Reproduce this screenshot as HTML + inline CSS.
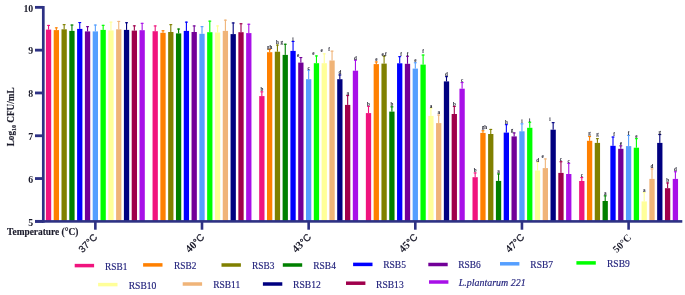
<!DOCTYPE html>
<html><head><meta charset="utf-8"><title>chart</title>
<style>html,body{margin:0;padding:0;background:#fff;}body{width:685px;height:295px;overflow:hidden;position:relative;font-family:"Liberation Sans",sans-serif;}</style>
</head><body>
<svg width="685" height="295" viewBox="0 0 685 295" style="position:absolute;left:0;top:0;will-change:transform">
<rect width="685" height="295" fill="#fff"/>
<rect x="45.90" y="29.60" width="5.3" height="191.90" fill="#F0147E"/>
<rect x="48.00" y="24.90" width="1.1" height="4.70" fill="#F0147E"/>
<rect x="47.10" y="24.90" width="2.9" height="1.1" fill="#F0147E"/>
<rect x="53.70" y="30.10" width="5.3" height="191.40" fill="#FF8000"/>
<rect x="55.80" y="27.30" width="1.1" height="2.80" fill="#FF8000"/>
<rect x="54.90" y="27.30" width="2.9" height="1.1" fill="#FF8000"/>
<rect x="61.50" y="29.30" width="5.3" height="192.20" fill="#808000"/>
<rect x="63.60" y="24.10" width="1.1" height="5.20" fill="#808000"/>
<rect x="62.70" y="24.10" width="2.9" height="1.1" fill="#808000"/>
<rect x="69.30" y="30.90" width="5.3" height="190.60" fill="#008000"/>
<rect x="71.40" y="24.50" width="1.1" height="6.40" fill="#008000"/>
<rect x="70.50" y="24.50" width="2.9" height="1.1" fill="#008000"/>
<rect x="77.10" y="28.90" width="5.3" height="192.60" fill="#0000FF"/>
<rect x="79.20" y="22.00" width="1.1" height="6.90" fill="#0000FF"/>
<rect x="78.30" y="22.00" width="2.9" height="1.1" fill="#0000FF"/>
<rect x="84.90" y="31.40" width="5.3" height="190.10" fill="#720098"/>
<rect x="87.00" y="26.10" width="1.1" height="5.30" fill="#720098"/>
<rect x="86.10" y="26.10" width="2.9" height="1.1" fill="#720098"/>
<rect x="92.70" y="31.40" width="5.3" height="190.10" fill="#559FFF"/>
<rect x="94.80" y="24.50" width="1.1" height="6.90" fill="#559FFF"/>
<rect x="93.90" y="24.50" width="2.9" height="1.1" fill="#559FFF"/>
<rect x="100.50" y="29.90" width="5.3" height="191.60" fill="#00FF00"/>
<rect x="102.60" y="24.80" width="1.1" height="5.10" fill="#00FF00"/>
<rect x="101.70" y="24.80" width="2.9" height="1.1" fill="#00FF00"/>
<rect x="108.30" y="30.40" width="5.3" height="191.10" fill="#FFFF99"/>
<rect x="110.40" y="21.60" width="1.1" height="8.80" fill="#FFFF99"/>
<rect x="109.50" y="21.60" width="2.9" height="1.1" fill="#FFFF99"/>
<rect x="116.10" y="29.30" width="5.3" height="192.20" fill="#F0B478"/>
<rect x="118.20" y="20.90" width="1.1" height="8.40" fill="#F0B478"/>
<rect x="117.30" y="20.90" width="2.9" height="1.1" fill="#F0B478"/>
<rect x="123.90" y="29.90" width="5.3" height="191.60" fill="#000080"/>
<rect x="126.00" y="22.20" width="1.1" height="7.70" fill="#000080"/>
<rect x="125.10" y="22.20" width="2.9" height="1.1" fill="#000080"/>
<rect x="131.70" y="30.60" width="5.3" height="190.90" fill="#A0004C"/>
<rect x="133.80" y="25.30" width="1.1" height="5.30" fill="#A0004C"/>
<rect x="132.90" y="25.30" width="2.9" height="1.1" fill="#A0004C"/>
<rect x="139.50" y="30.20" width="5.3" height="191.30" fill="#A810E8"/>
<rect x="141.60" y="22.80" width="1.1" height="7.40" fill="#A810E8"/>
<rect x="140.70" y="22.80" width="2.9" height="1.1" fill="#A810E8"/>
<rect x="152.55" y="31.20" width="5.3" height="190.30" fill="#F0147E"/>
<rect x="154.65" y="25.40" width="1.1" height="5.80" fill="#F0147E"/>
<rect x="153.75" y="25.40" width="2.9" height="1.1" fill="#F0147E"/>
<rect x="160.35" y="32.80" width="5.3" height="188.70" fill="#FF8000"/>
<rect x="162.45" y="30.20" width="1.1" height="2.60" fill="#FF8000"/>
<rect x="161.55" y="30.20" width="2.9" height="1.1" fill="#FF8000"/>
<rect x="168.15" y="32.00" width="5.3" height="189.50" fill="#808000"/>
<rect x="170.25" y="24.10" width="1.1" height="7.90" fill="#808000"/>
<rect x="169.35" y="24.10" width="2.9" height="1.1" fill="#808000"/>
<rect x="175.95" y="33.40" width="5.3" height="188.10" fill="#008000"/>
<rect x="178.05" y="28.50" width="1.1" height="4.90" fill="#008000"/>
<rect x="177.15" y="28.50" width="2.9" height="1.1" fill="#008000"/>
<rect x="183.75" y="30.90" width="5.3" height="190.60" fill="#0000FF"/>
<rect x="185.85" y="21.60" width="1.1" height="9.30" fill="#0000FF"/>
<rect x="184.95" y="21.60" width="2.9" height="1.1" fill="#0000FF"/>
<rect x="191.55" y="32.00" width="5.3" height="189.50" fill="#720098"/>
<rect x="193.65" y="25.40" width="1.1" height="6.60" fill="#720098"/>
<rect x="192.75" y="25.40" width="2.9" height="1.1" fill="#720098"/>
<rect x="199.35" y="33.80" width="5.3" height="187.70" fill="#559FFF"/>
<rect x="201.45" y="26.10" width="1.1" height="7.70" fill="#559FFF"/>
<rect x="200.55" y="26.10" width="2.9" height="1.1" fill="#559FFF"/>
<rect x="207.15" y="32.20" width="5.3" height="189.30" fill="#00FF00"/>
<rect x="209.25" y="20.60" width="1.1" height="11.60" fill="#00FF00"/>
<rect x="208.35" y="20.60" width="2.9" height="1.1" fill="#00FF00"/>
<rect x="214.95" y="32.50" width="5.3" height="189.00" fill="#FFFF99"/>
<rect x="217.05" y="25.40" width="1.1" height="7.10" fill="#FFFF99"/>
<rect x="216.15" y="25.40" width="2.9" height="1.1" fill="#FFFF99"/>
<rect x="222.75" y="30.90" width="5.3" height="190.60" fill="#F0B478"/>
<rect x="224.85" y="19.60" width="1.1" height="11.30" fill="#F0B478"/>
<rect x="223.95" y="19.60" width="2.9" height="1.1" fill="#F0B478"/>
<rect x="230.55" y="34.10" width="5.3" height="187.40" fill="#000080"/>
<rect x="232.65" y="22.40" width="1.1" height="11.70" fill="#000080"/>
<rect x="231.75" y="22.40" width="2.9" height="1.1" fill="#000080"/>
<rect x="238.35" y="32.20" width="5.3" height="189.30" fill="#A0004C"/>
<rect x="240.45" y="23.20" width="1.1" height="9.00" fill="#A0004C"/>
<rect x="239.55" y="23.20" width="2.9" height="1.1" fill="#A0004C"/>
<rect x="246.15" y="33.10" width="5.3" height="188.40" fill="#A810E8"/>
<rect x="248.25" y="23.70" width="1.1" height="9.40" fill="#A810E8"/>
<rect x="247.35" y="23.70" width="2.9" height="1.1" fill="#A810E8"/>
<rect x="259.20" y="96.10" width="5.3" height="125.40" fill="#F0147E"/>
<rect x="261.30" y="91.30" width="1.1" height="4.80" fill="#F0147E"/>
<rect x="260.40" y="91.30" width="2.9" height="1.1" fill="#F0147E"/>
<text x="261.85" y="91.20" font-size="5.1" font-weight="bold" text-anchor="middle" fill="#1a1a2a" font-family="Liberation Serif, serif">b</text>
<rect x="267.00" y="52.20" width="5.3" height="169.30" fill="#FF8000"/>
<rect x="269.10" y="48.90" width="1.1" height="3.30" fill="#FF8000"/>
<rect x="268.20" y="48.90" width="2.9" height="1.1" fill="#FF8000"/>
<text x="269.65" y="48.80" font-size="5.1" font-weight="bold" text-anchor="middle" fill="#1a1a2a" font-family="Liberation Serif, serif">gh</text>
<rect x="274.80" y="51.70" width="5.3" height="169.80" fill="#808000"/>
<rect x="276.90" y="44.50" width="1.1" height="7.20" fill="#808000"/>
<rect x="276.00" y="44.50" width="2.9" height="1.1" fill="#808000"/>
<text x="277.45" y="44.40" font-size="5.1" font-weight="bold" text-anchor="middle" fill="#1a1a2a" font-family="Liberation Serif, serif">h</text>
<rect x="282.60" y="54.90" width="5.3" height="166.60" fill="#008000"/>
<rect x="284.70" y="43.70" width="1.1" height="11.20" fill="#008000"/>
<rect x="283.80" y="43.70" width="2.9" height="1.1" fill="#008000"/>
<text x="281.65" y="43.60" font-size="5.1" font-weight="bold" text-anchor="middle" fill="#1a1a2a" font-family="Liberation Serif, serif">g</text>
<rect x="290.40" y="50.90" width="5.3" height="170.60" fill="#0000FF"/>
<rect x="292.50" y="40.90" width="1.1" height="10.00" fill="#0000FF"/>
<rect x="291.60" y="40.90" width="2.9" height="1.1" fill="#0000FF"/>
<text x="293.05" y="40.80" font-size="5.1" font-weight="bold" text-anchor="middle" fill="#1a1a2a" font-family="Liberation Serif, serif">i</text>
<rect x="298.20" y="62.60" width="5.3" height="158.90" fill="#720098"/>
<rect x="300.30" y="57.00" width="1.1" height="5.60" fill="#720098"/>
<rect x="299.40" y="57.00" width="2.9" height="1.1" fill="#720098"/>
<text x="298.05" y="56.50" font-size="5.1" font-weight="bold" text-anchor="middle" fill="#1a1a2a" font-family="Liberation Serif, serif">e</text>
<rect x="306.00" y="79.20" width="5.3" height="142.30" fill="#559FFF"/>
<rect x="308.10" y="69.60" width="1.1" height="9.60" fill="#559FFF"/>
<rect x="307.20" y="69.60" width="2.9" height="1.1" fill="#559FFF"/>
<text x="308.65" y="69.50" font-size="5.1" font-weight="bold" text-anchor="middle" fill="#1a1a2a" font-family="Liberation Serif, serif">c</text>
<rect x="313.80" y="63.20" width="5.3" height="158.30" fill="#00FF00"/>
<rect x="315.90" y="55.40" width="1.1" height="7.80" fill="#00FF00"/>
<rect x="315.00" y="55.40" width="2.9" height="1.1" fill="#00FF00"/>
<text x="313.45" y="54.90" font-size="5.1" font-weight="bold" text-anchor="middle" fill="#1a1a2a" font-family="Liberation Serif, serif">e</text>
<rect x="321.60" y="63.20" width="5.3" height="158.30" fill="#FFFF99"/>
<rect x="323.70" y="53.30" width="1.1" height="9.90" fill="#FFFF99"/>
<rect x="322.80" y="53.30" width="2.9" height="1.1" fill="#FFFF99"/>
<text x="321.75" y="51.70" font-size="5.1" font-weight="bold" text-anchor="middle" fill="#1a1a2a" font-family="Liberation Serif, serif">e</text>
<rect x="329.40" y="60.50" width="5.3" height="161.00" fill="#F0B478"/>
<rect x="331.50" y="50.60" width="1.1" height="9.90" fill="#F0B478"/>
<rect x="330.60" y="50.60" width="2.9" height="1.1" fill="#F0B478"/>
<text x="329.15" y="50.90" font-size="5.1" font-weight="bold" text-anchor="middle" fill="#1a1a2a" font-family="Liberation Serif, serif">f</text>
<rect x="337.20" y="79.20" width="5.3" height="142.30" fill="#000080"/>
<rect x="339.30" y="74.40" width="1.1" height="4.80" fill="#000080"/>
<rect x="338.40" y="74.40" width="2.9" height="1.1" fill="#000080"/>
<text x="339.85" y="74.30" font-size="5.1" font-weight="bold" text-anchor="middle" fill="#1a1a2a" font-family="Liberation Serif, serif">d</text>
<rect x="345.00" y="104.90" width="5.3" height="116.60" fill="#A0004C"/>
<rect x="347.10" y="95.00" width="1.1" height="9.90" fill="#A0004C"/>
<rect x="346.20" y="95.00" width="2.9" height="1.1" fill="#A0004C"/>
<text x="347.65" y="94.90" font-size="5.1" font-weight="bold" text-anchor="middle" fill="#1a1a2a" font-family="Liberation Serif, serif">a</text>
<rect x="352.80" y="70.70" width="5.3" height="150.80" fill="#A810E8"/>
<rect x="354.90" y="59.70" width="1.1" height="11.00" fill="#A810E8"/>
<rect x="354.00" y="59.70" width="2.9" height="1.1" fill="#A810E8"/>
<text x="355.45" y="59.60" font-size="5.1" font-weight="bold" text-anchor="middle" fill="#1a1a2a" font-family="Liberation Serif, serif">d</text>
<rect x="365.85" y="113.10" width="5.3" height="108.40" fill="#F0147E"/>
<rect x="367.95" y="105.80" width="1.1" height="7.30" fill="#F0147E"/>
<rect x="367.05" y="105.80" width="2.9" height="1.1" fill="#F0147E"/>
<text x="368.50" y="105.70" font-size="5.1" font-weight="bold" text-anchor="middle" fill="#1a1a2a" font-family="Liberation Serif, serif">b</text>
<rect x="373.65" y="64.10" width="5.3" height="157.40" fill="#FF8000"/>
<rect x="375.75" y="61.40" width="1.1" height="2.70" fill="#FF8000"/>
<rect x="374.85" y="61.40" width="2.9" height="1.1" fill="#FF8000"/>
<text x="376.30" y="61.30" font-size="5.1" font-weight="bold" text-anchor="middle" fill="#1a1a2a" font-family="Liberation Serif, serif">e</text>
<rect x="381.45" y="63.60" width="5.3" height="157.90" fill="#808000"/>
<rect x="383.55" y="55.60" width="1.1" height="8.00" fill="#808000"/>
<rect x="382.65" y="55.60" width="2.9" height="1.1" fill="#808000"/>
<text x="384.10" y="55.50" font-size="5.1" font-weight="bold" text-anchor="middle" fill="#1a1a2a" font-family="Liberation Serif, serif">e,f</text>
<rect x="389.25" y="111.60" width="5.3" height="109.90" fill="#008000"/>
<rect x="391.35" y="106.30" width="1.1" height="5.30" fill="#008000"/>
<rect x="390.45" y="106.30" width="2.9" height="1.1" fill="#008000"/>
<text x="391.90" y="106.20" font-size="5.1" font-weight="bold" text-anchor="middle" fill="#1a1a2a" font-family="Liberation Serif, serif">b</text>
<rect x="397.05" y="63.30" width="5.3" height="158.20" fill="#0000FF"/>
<rect x="399.15" y="56.10" width="1.1" height="7.20" fill="#0000FF"/>
<rect x="398.25" y="56.10" width="2.9" height="1.1" fill="#0000FF"/>
<text x="401.10" y="56.00" font-size="5.1" font-weight="bold" text-anchor="middle" fill="#1a1a2a" font-family="Liberation Serif, serif">f</text>
<rect x="404.85" y="63.80" width="5.3" height="157.70" fill="#720098"/>
<rect x="406.95" y="55.70" width="1.1" height="8.10" fill="#720098"/>
<rect x="406.05" y="55.70" width="2.9" height="1.1" fill="#720098"/>
<text x="407.50" y="55.60" font-size="5.1" font-weight="bold" text-anchor="middle" fill="#1a1a2a" font-family="Liberation Serif, serif">f</text>
<rect x="412.65" y="68.60" width="5.3" height="152.90" fill="#559FFF"/>
<rect x="414.75" y="62.20" width="1.1" height="6.40" fill="#559FFF"/>
<rect x="413.85" y="62.20" width="2.9" height="1.1" fill="#559FFF"/>
<text x="415.30" y="62.10" font-size="5.1" font-weight="bold" text-anchor="middle" fill="#1a1a2a" font-family="Liberation Serif, serif">e</text>
<rect x="420.45" y="64.60" width="5.3" height="156.90" fill="#00FF00"/>
<rect x="422.55" y="54.50" width="1.1" height="10.10" fill="#00FF00"/>
<rect x="421.65" y="54.50" width="2.9" height="1.1" fill="#00FF00"/>
<text x="423.10" y="53.40" font-size="5.1" font-weight="bold" text-anchor="middle" fill="#1a1a2a" font-family="Liberation Serif, serif">f</text>
<rect x="428.25" y="115.90" width="5.3" height="105.60" fill="#FFFF99"/>
<rect x="430.35" y="107.60" width="1.1" height="8.30" fill="#FFFF99"/>
<rect x="429.45" y="107.60" width="2.9" height="1.1" fill="#FFFF99"/>
<text x="430.90" y="107.50" font-size="5.1" font-weight="bold" text-anchor="middle" fill="#1a1a2a" font-family="Liberation Serif, serif">a</text>
<rect x="436.05" y="123.10" width="5.3" height="98.40" fill="#F0B478"/>
<rect x="438.15" y="114.50" width="1.1" height="8.60" fill="#F0B478"/>
<rect x="437.25" y="114.50" width="2.9" height="1.1" fill="#F0B478"/>
<text x="438.70" y="114.40" font-size="5.1" font-weight="bold" text-anchor="middle" fill="#1a1a2a" font-family="Liberation Serif, serif">a</text>
<rect x="443.85" y="81.40" width="5.3" height="140.10" fill="#000080"/>
<rect x="445.95" y="76.10" width="1.1" height="5.30" fill="#000080"/>
<rect x="445.05" y="76.10" width="2.9" height="1.1" fill="#000080"/>
<text x="446.50" y="76.00" font-size="5.1" font-weight="bold" text-anchor="middle" fill="#1a1a2a" font-family="Liberation Serif, serif">d</text>
<rect x="451.65" y="114.00" width="5.3" height="107.50" fill="#A0004C"/>
<rect x="453.75" y="105.90" width="1.1" height="8.10" fill="#A0004C"/>
<rect x="452.85" y="105.90" width="2.9" height="1.1" fill="#A0004C"/>
<text x="454.30" y="105.80" font-size="5.1" font-weight="bold" text-anchor="middle" fill="#1a1a2a" font-family="Liberation Serif, serif">b</text>
<rect x="459.45" y="88.70" width="5.3" height="132.80" fill="#A810E8"/>
<rect x="461.55" y="82.00" width="1.1" height="6.70" fill="#A810E8"/>
<rect x="460.65" y="82.00" width="2.9" height="1.1" fill="#A810E8"/>
<text x="462.10" y="81.90" font-size="5.1" font-weight="bold" text-anchor="middle" fill="#1a1a2a" font-family="Liberation Serif, serif">c</text>
<rect x="472.50" y="177.20" width="5.3" height="44.30" fill="#F0147E"/>
<rect x="474.60" y="172.40" width="1.1" height="4.80" fill="#F0147E"/>
<rect x="473.70" y="172.40" width="2.9" height="1.1" fill="#F0147E"/>
<text x="475.15" y="172.30" font-size="5.1" font-weight="bold" text-anchor="middle" fill="#1a1a2a" font-family="Liberation Serif, serif">b</text>
<rect x="480.30" y="132.90" width="5.3" height="88.60" fill="#FF8000"/>
<rect x="482.40" y="130.20" width="1.1" height="2.70" fill="#FF8000"/>
<rect x="481.50" y="130.20" width="2.9" height="1.1" fill="#FF8000"/>
<text x="484.45" y="129.30" font-size="5.1" font-weight="bold" text-anchor="middle" fill="#1a1a2a" font-family="Liberation Serif, serif">gh</text>
<rect x="488.10" y="134.00" width="5.3" height="87.50" fill="#808000"/>
<rect x="490.20" y="128.90" width="1.1" height="5.10" fill="#808000"/>
<rect x="489.30" y="128.90" width="2.9" height="1.1" fill="#808000"/>
<rect x="495.90" y="180.90" width="5.3" height="40.60" fill="#008000"/>
<rect x="498.00" y="173.40" width="1.1" height="7.50" fill="#008000"/>
<rect x="497.10" y="173.40" width="2.9" height="1.1" fill="#008000"/>
<text x="498.55" y="173.30" font-size="5.1" font-weight="bold" text-anchor="middle" fill="#1a1a2a" font-family="Liberation Serif, serif">a</text>
<rect x="503.70" y="132.60" width="5.3" height="88.90" fill="#0000FF"/>
<rect x="505.80" y="124.10" width="1.1" height="8.50" fill="#0000FF"/>
<rect x="504.90" y="124.10" width="2.9" height="1.1" fill="#0000FF"/>
<text x="506.35" y="124.00" font-size="5.1" font-weight="bold" text-anchor="middle" fill="#1a1a2a" font-family="Liberation Serif, serif">h</text>
<rect x="511.50" y="136.40" width="5.3" height="85.10" fill="#720098"/>
<rect x="513.60" y="132.40" width="1.1" height="4.00" fill="#720098"/>
<rect x="512.70" y="132.40" width="2.9" height="1.1" fill="#720098"/>
<text x="511.95" y="131.80" font-size="5.1" font-weight="bold" text-anchor="middle" fill="#1a1a2a" font-family="Liberation Serif, serif">g</text>
<rect x="519.30" y="131.30" width="5.3" height="90.20" fill="#559FFF"/>
<rect x="521.40" y="123.30" width="1.1" height="8.00" fill="#559FFF"/>
<rect x="520.50" y="123.30" width="2.9" height="1.1" fill="#559FFF"/>
<text x="521.95" y="123.20" font-size="5.1" font-weight="bold" text-anchor="middle" fill="#1a1a2a" font-family="Liberation Serif, serif">i</text>
<rect x="527.10" y="127.80" width="5.3" height="93.70" fill="#00FF00"/>
<rect x="529.20" y="121.70" width="1.1" height="6.10" fill="#00FF00"/>
<rect x="528.30" y="121.70" width="2.9" height="1.1" fill="#00FF00"/>
<text x="529.75" y="121.60" font-size="5.1" font-weight="bold" text-anchor="middle" fill="#1a1a2a" font-family="Liberation Serif, serif">i</text>
<rect x="534.90" y="170.50" width="5.3" height="51.00" fill="#FFFF99"/>
<rect x="537.00" y="161.70" width="1.1" height="8.80" fill="#FFFF99"/>
<rect x="536.10" y="161.70" width="2.9" height="1.1" fill="#FFFF99"/>
<text x="537.55" y="161.60" font-size="5.1" font-weight="bold" text-anchor="middle" fill="#1a1a2a" font-family="Liberation Serif, serif">d</text>
<rect x="542.70" y="168.10" width="5.3" height="53.40" fill="#F0B478"/>
<rect x="544.80" y="158.40" width="1.1" height="9.70" fill="#F0B478"/>
<rect x="543.90" y="158.40" width="2.9" height="1.1" fill="#F0B478"/>
<text x="542.65" y="158.30" font-size="5.1" font-weight="bold" text-anchor="middle" fill="#1a1a2a" font-family="Liberation Serif, serif">e</text>
<rect x="550.50" y="129.70" width="5.3" height="91.80" fill="#000080"/>
<rect x="552.60" y="122.10" width="1.1" height="7.60" fill="#000080"/>
<rect x="551.70" y="122.10" width="2.9" height="1.1" fill="#000080"/>
<text x="549.95" y="121.00" font-size="5.1" font-weight="bold" text-anchor="middle" fill="#1a1a2a" font-family="Liberation Serif, serif">i</text>
<rect x="558.30" y="172.90" width="5.3" height="48.60" fill="#A0004C"/>
<rect x="560.40" y="161.20" width="1.1" height="11.70" fill="#A0004C"/>
<rect x="559.50" y="161.20" width="2.9" height="1.1" fill="#A0004C"/>
<text x="560.95" y="161.10" font-size="5.1" font-weight="bold" text-anchor="middle" fill="#1a1a2a" font-family="Liberation Serif, serif">c</text>
<rect x="566.10" y="174.00" width="5.3" height="47.50" fill="#A810E8"/>
<rect x="568.20" y="162.80" width="1.1" height="11.20" fill="#A810E8"/>
<rect x="567.30" y="162.80" width="2.9" height="1.1" fill="#A810E8"/>
<text x="568.75" y="162.70" font-size="5.1" font-weight="bold" text-anchor="middle" fill="#1a1a2a" font-family="Liberation Serif, serif">c</text>
<rect x="579.15" y="181.00" width="5.3" height="40.50" fill="#F0147E"/>
<rect x="581.25" y="177.00" width="1.1" height="4.00" fill="#F0147E"/>
<rect x="580.35" y="177.00" width="2.9" height="1.1" fill="#F0147E"/>
<text x="581.80" y="176.90" font-size="5.1" font-weight="bold" text-anchor="middle" fill="#1a1a2a" font-family="Liberation Serif, serif">c</text>
<rect x="586.95" y="140.80" width="5.3" height="80.70" fill="#FF8000"/>
<rect x="589.05" y="136.00" width="1.1" height="4.80" fill="#FF8000"/>
<rect x="588.15" y="136.00" width="2.9" height="1.1" fill="#FF8000"/>
<text x="589.60" y="135.30" font-size="5.1" font-weight="bold" text-anchor="middle" fill="#1a1a2a" font-family="Liberation Serif, serif">g</text>
<rect x="594.75" y="142.90" width="5.3" height="78.60" fill="#808000"/>
<rect x="596.85" y="138.10" width="1.1" height="4.80" fill="#808000"/>
<rect x="595.95" y="138.10" width="2.9" height="1.1" fill="#808000"/>
<text x="597.40" y="135.80" font-size="5.1" font-weight="bold" text-anchor="middle" fill="#1a1a2a" font-family="Liberation Serif, serif">g</text>
<rect x="602.55" y="201.00" width="5.3" height="20.50" fill="#008000"/>
<rect x="604.65" y="195.30" width="1.1" height="5.70" fill="#008000"/>
<rect x="603.75" y="195.30" width="2.9" height="1.1" fill="#008000"/>
<text x="605.20" y="195.20" font-size="5.1" font-weight="bold" text-anchor="middle" fill="#1a1a2a" font-family="Liberation Serif, serif">a</text>
<rect x="610.35" y="145.80" width="5.3" height="75.70" fill="#0000FF"/>
<rect x="612.45" y="136.50" width="1.1" height="9.30" fill="#0000FF"/>
<rect x="611.55" y="136.50" width="2.9" height="1.1" fill="#0000FF"/>
<text x="614.10" y="136.40" font-size="5.1" font-weight="bold" text-anchor="middle" fill="#1a1a2a" font-family="Liberation Serif, serif">f</text>
<rect x="618.15" y="148.80" width="5.3" height="72.70" fill="#720098"/>
<rect x="620.25" y="145.30" width="1.1" height="3.50" fill="#720098"/>
<rect x="619.35" y="145.30" width="2.9" height="1.1" fill="#720098"/>
<text x="620.80" y="145.20" font-size="5.1" font-weight="bold" text-anchor="middle" fill="#1a1a2a" font-family="Liberation Serif, serif">e</text>
<rect x="625.95" y="146.10" width="5.3" height="75.40" fill="#559FFF"/>
<rect x="628.05" y="134.90" width="1.1" height="11.20" fill="#559FFF"/>
<rect x="627.15" y="134.90" width="2.9" height="1.1" fill="#559FFF"/>
<text x="628.60" y="134.80" font-size="5.1" font-weight="bold" text-anchor="middle" fill="#1a1a2a" font-family="Liberation Serif, serif">f</text>
<rect x="633.75" y="147.70" width="5.3" height="73.80" fill="#00FF00"/>
<rect x="635.85" y="138.10" width="1.1" height="9.60" fill="#00FF00"/>
<rect x="634.95" y="138.10" width="2.9" height="1.1" fill="#00FF00"/>
<text x="636.40" y="138.00" font-size="5.1" font-weight="bold" text-anchor="middle" fill="#1a1a2a" font-family="Liberation Serif, serif">e</text>
<rect x="641.55" y="201.40" width="5.3" height="20.10" fill="#FFFF99"/>
<rect x="643.65" y="192.00" width="1.1" height="9.40" fill="#FFFF99"/>
<rect x="642.75" y="192.00" width="2.9" height="1.1" fill="#FFFF99"/>
<text x="644.20" y="191.90" font-size="5.1" font-weight="bold" text-anchor="middle" fill="#1a1a2a" font-family="Liberation Serif, serif">a</text>
<rect x="649.35" y="178.90" width="5.3" height="42.60" fill="#F0B478"/>
<rect x="651.45" y="168.40" width="1.1" height="10.50" fill="#F0B478"/>
<rect x="650.55" y="168.40" width="2.9" height="1.1" fill="#F0B478"/>
<text x="652.00" y="168.30" font-size="5.1" font-weight="bold" text-anchor="middle" fill="#1a1a2a" font-family="Liberation Serif, serif">d</text>
<rect x="657.15" y="142.90" width="5.3" height="78.60" fill="#000080"/>
<rect x="659.25" y="134.00" width="1.1" height="8.90" fill="#000080"/>
<rect x="658.35" y="134.00" width="2.9" height="1.1" fill="#000080"/>
<text x="659.80" y="133.90" font-size="5.1" font-weight="bold" text-anchor="middle" fill="#1a1a2a" font-family="Liberation Serif, serif">g</text>
<rect x="664.95" y="188.20" width="5.3" height="33.30" fill="#A0004C"/>
<rect x="667.05" y="182.40" width="1.1" height="5.80" fill="#A0004C"/>
<rect x="666.15" y="182.40" width="2.9" height="1.1" fill="#A0004C"/>
<text x="667.60" y="182.30" font-size="5.1" font-weight="bold" text-anchor="middle" fill="#1a1a2a" font-family="Liberation Serif, serif">b</text>
<rect x="672.75" y="178.90" width="5.3" height="42.60" fill="#A810E8"/>
<rect x="674.85" y="171.20" width="1.1" height="7.70" fill="#A810E8"/>
<rect x="673.95" y="171.20" width="2.9" height="1.1" fill="#A810E8"/>
<text x="675.40" y="171.10" font-size="5.1" font-weight="bold" text-anchor="middle" fill="#1a1a2a" font-family="Liberation Serif, serif">d</text>
<rect x="41.95" y="6.0" width="2.7" height="216.7" fill="#2d3184"/>
<rect x="35.0" y="220.1" width="647.3" height="2.6" fill="#2d3184"/>
<rect x="35.0" y="5.95" width="8" height="2.8" fill="#2d3184"/>
<text x="33.2" y="11.65" font-size="9.8" font-weight="bold" text-anchor="end" fill="#1b1b2b" font-family="Liberation Serif, serif">10</text>
<rect x="35.0" y="48.75" width="8" height="2.8" fill="#2d3184"/>
<text x="33.2" y="54.45" font-size="9.8" font-weight="bold" text-anchor="end" fill="#1b1b2b" font-family="Liberation Serif, serif">9</text>
<rect x="35.0" y="91.55" width="8" height="2.8" fill="#2d3184"/>
<text x="33.2" y="97.25" font-size="9.8" font-weight="bold" text-anchor="end" fill="#1b1b2b" font-family="Liberation Serif, serif">8</text>
<rect x="35.0" y="134.35" width="8" height="2.8" fill="#2d3184"/>
<text x="33.2" y="140.05" font-size="9.8" font-weight="bold" text-anchor="end" fill="#1b1b2b" font-family="Liberation Serif, serif">7</text>
<rect x="35.0" y="177.15" width="8" height="2.8" fill="#2d3184"/>
<text x="33.2" y="182.85" font-size="9.8" font-weight="bold" text-anchor="end" fill="#1b1b2b" font-family="Liberation Serif, serif">6</text>
<rect x="35.0" y="219.95" width="8" height="2.8" fill="#2d3184"/>
<text x="33.2" y="225.65" font-size="9.8" font-weight="bold" text-anchor="end" fill="#1b1b2b" font-family="Liberation Serif, serif">5</text>
<rect x="94.05" y="221" width="2.6" height="8.7" fill="#2d3184"/>
<text transform="translate(95.75,235.70) rotate(-45)" text-anchor="end" fill="#1b1b2b" x="0" y="3"><tspan font-family="Liberation Sans, sans-serif" font-size="9.7" stroke="#1b1b2b" stroke-width="0.25">37°C</tspan></text>
<rect x="200.70" y="221" width="2.6" height="8.7" fill="#2d3184"/>
<text transform="translate(202.90,235.70) rotate(-45)" text-anchor="end" fill="#1b1b2b" x="0" y="3"><tspan font-family="Liberation Serif, serif" font-weight="bold" font-size="10.8">40</tspan><tspan font-family="Liberation Sans, sans-serif" font-size="9.8" stroke="#1b1b2b" stroke-width="0.3">°C</tspan></text>
<rect x="307.35" y="221" width="2.6" height="8.7" fill="#2d3184"/>
<text transform="translate(309.55,235.70) rotate(-45)" text-anchor="end" fill="#1b1b2b" x="0" y="3"><tspan font-family="Liberation Serif, serif" font-weight="bold" font-size="10.8">43</tspan><tspan font-family="Liberation Sans, sans-serif" font-size="9.8" stroke="#1b1b2b" stroke-width="0.3">°C</tspan></text>
<rect x="414.00" y="221" width="2.6" height="8.7" fill="#2d3184"/>
<text transform="translate(416.20,235.70) rotate(-45)" text-anchor="end" fill="#1b1b2b" x="0" y="3"><tspan font-family="Liberation Serif, serif" font-weight="bold" font-size="10.8">45</tspan><tspan font-family="Liberation Sans, sans-serif" font-size="9.8" stroke="#1b1b2b" stroke-width="0.3">°C</tspan></text>
<rect x="520.65" y="221" width="2.6" height="8.7" fill="#2d3184"/>
<text transform="translate(522.85,235.70) rotate(-45)" text-anchor="end" fill="#1b1b2b" x="0" y="3"><tspan font-family="Liberation Serif, serif" font-weight="bold" font-size="10.8">47</tspan><tspan font-family="Liberation Sans, sans-serif" font-size="9.8" stroke="#1b1b2b" stroke-width="0.3">°C</tspan></text>
<rect x="627.30" y="221" width="2.6" height="8.7" fill="#2d3184"/>
<text transform="translate(629.50,235.70) rotate(-45)" text-anchor="end" fill="#1b1b2b" x="0" y="3"><tspan font-family="Liberation Serif, serif" font-weight="bold" font-size="10.1" dy="0.5">50°C</tspan></text>
<text x="7.1" y="235.1" font-size="9.4" font-weight="bold" fill="#1b1b2b" stroke="#1b1b2b" stroke-width="0.15" font-family="Liberation Serif, serif" textLength="71.2" lengthAdjust="spacingAndGlyphs">Temperature (°C)</text>
<text transform="translate(14.3,146.3) rotate(-90)" font-size="9.7" font-weight="bold" fill="#1b1b2b" stroke="#1b1b2b" stroke-width="0.15" font-family="Liberation Serif, serif" textLength="59" lengthAdjust="spacingAndGlyphs">Log<tspan font-size="6.2" dy="1.8">10</tspan><tspan dy="-1.8"> CFU/mL</tspan></text>
<rect x="74.7" y="263.85" width="19.4" height="3.5" fill="#F0147E"/>
<text x="105.1" y="269.50" font-size="10" fill="#1b1b78" stroke="#1b1b78" stroke-width="0.15" font-family="Liberation Serif, serif" textLength="22.3" lengthAdjust="spacingAndGlyphs">RSB1</text>
<rect x="143.1" y="263.15" width="19.4" height="3.5" fill="#FF8000"/>
<text x="174.0" y="268.80" font-size="10" fill="#1b1b78" stroke="#1b1b78" stroke-width="0.15" font-family="Liberation Serif, serif" textLength="22.3" lengthAdjust="spacingAndGlyphs">RSB2</text>
<rect x="221.5" y="263.25" width="19.4" height="3.5" fill="#808000"/>
<text x="252.0" y="268.90" font-size="10" fill="#1b1b78" stroke="#1b1b78" stroke-width="0.15" font-family="Liberation Serif, serif" textLength="22.5" lengthAdjust="spacingAndGlyphs">RSB3</text>
<rect x="282.8" y="263.25" width="19.4" height="3.5" fill="#008000"/>
<text x="313.3" y="268.90" font-size="10" fill="#1b1b78" stroke="#1b1b78" stroke-width="0.15" font-family="Liberation Serif, serif" textLength="22.6" lengthAdjust="spacingAndGlyphs">RSB4</text>
<rect x="353.1" y="262.65" width="19.4" height="3.5" fill="#0000FF"/>
<text x="383.2" y="268.30" font-size="10" fill="#1b1b78" stroke="#1b1b78" stroke-width="0.15" font-family="Liberation Serif, serif" textLength="22.8" lengthAdjust="spacingAndGlyphs">RSB5</text>
<rect x="428.3" y="262.75" width="19.4" height="3.5" fill="#720098"/>
<text x="458.2" y="268.40" font-size="10" fill="#1b1b78" stroke="#1b1b78" stroke-width="0.15" font-family="Liberation Serif, serif" textLength="22.5" lengthAdjust="spacingAndGlyphs">RSB6</text>
<rect x="500.0" y="262.05" width="19.4" height="3.5" fill="#559FFF"/>
<text x="530.3" y="267.70" font-size="10" fill="#1b1b78" stroke="#1b1b78" stroke-width="0.15" font-family="Liberation Serif, serif" textLength="22.7" lengthAdjust="spacingAndGlyphs">RSB7</text>
<rect x="576.4" y="261.15" width="19.4" height="3.5" fill="#00FF00"/>
<text x="607.0" y="266.80" font-size="10" fill="#1b1b78" stroke="#1b1b78" stroke-width="0.15" font-family="Liberation Serif, serif" textLength="22.8" lengthAdjust="spacingAndGlyphs">RSB9</text>
<rect x="98.1" y="282.85" width="19.4" height="3.5" fill="#FFFF99"/>
<text x="128.7" y="288.90" font-size="10" fill="#1b1b78" stroke="#1b1b78" stroke-width="0.15" font-family="Liberation Serif, serif" textLength="27.7" lengthAdjust="spacingAndGlyphs">RSB10</text>
<rect x="182.7" y="282.25" width="19.4" height="3.5" fill="#F0B478"/>
<text x="213.2" y="288.30" font-size="10" fill="#1b1b78" stroke="#1b1b78" stroke-width="0.15" font-family="Liberation Serif, serif" textLength="27.0" lengthAdjust="spacingAndGlyphs">RSB11</text>
<rect x="262.9" y="282.25" width="19.4" height="3.5" fill="#000080"/>
<text x="293.1" y="288.30" font-size="10" fill="#1b1b78" stroke="#1b1b78" stroke-width="0.15" font-family="Liberation Serif, serif" textLength="27.8" lengthAdjust="spacingAndGlyphs">RSB12</text>
<rect x="346.0" y="281.45" width="19.4" height="3.5" fill="#A0004C"/>
<text x="376.0" y="287.50" font-size="10" fill="#1b1b78" stroke="#1b1b78" stroke-width="0.15" font-family="Liberation Serif, serif" textLength="27.7" lengthAdjust="spacingAndGlyphs">RSB13</text>
<rect x="429.0" y="280.25" width="19.4" height="3.5" fill="#A810E8"/>
<text x="458.8" y="286.30" font-size="10" font-style="italic" fill="#1b1b78" stroke="#1b1b78" stroke-width="0.15" font-family="Liberation Serif, serif" textLength="66.8" lengthAdjust="spacingAndGlyphs">L.plantarum 221</text>
</svg>
</body></html>
